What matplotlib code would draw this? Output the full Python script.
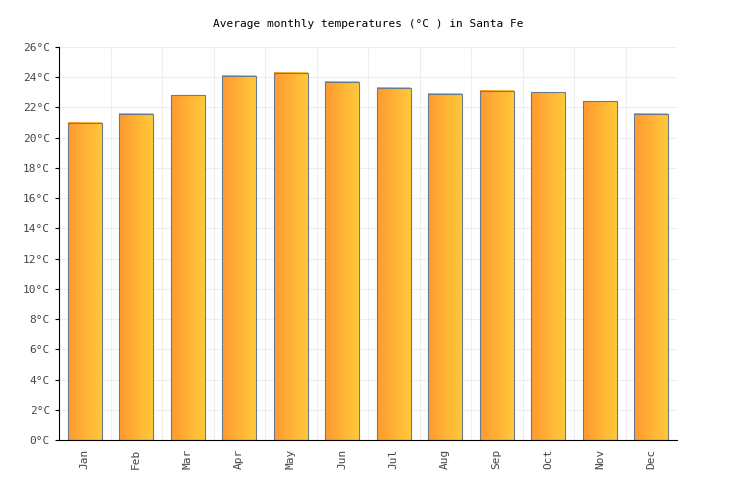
import matplotlib
matplotlib.use("Agg")
import matplotlib.pyplot as plt
import numpy as np
from matplotlib.colors import LinearSegmentedColormap

months = ["Jan", "Feb", "Mar", "Apr", "May", "Jun", "Jul", "Aug", "Sep", "Oct", "Nov", "Dec"]
temps = [21.0, 21.6, 22.8, 24.1, 24.3, 23.7, 23.3, 22.9, 23.1, 23.0, 22.4, 21.6]
yticks = list(range(0, 27, 2))

plt.rcParams["font.family"] = "DejaVu Sans Mono"
fig = plt.figure(figsize=(7.36, 5.0), dpi=100)
ax = fig.add_axes([59 / 736, 60 / 500, 618 / 736, 393 / 500])

cmap = LinearSegmentedColormap.from_list("og", ["#ff9a30", "#ffc93a"])
grad = np.linspace(0, 1, 64).reshape(1, -1)
w = 0.66
bars = ax.bar(range(len(months)), temps, width=w, color="none", edgecolor="#6b7b8c", linewidth=0.8, zorder=3)
for i, v in enumerate(temps):
    ax.imshow(grad, cmap=cmap, aspect="auto", extent=(i - w / 2, i + w / 2, 0, v), zorder=2)

ax.set_xlim(-0.5, len(months) - 0.5)
ax.set_ylim(0, 26)
ax.set_xticks(range(len(months)))
ax.set_xticklabels(months, rotation=90, fontsize=8, color="#444444")
ax.set_yticks(yticks)
ax.set_yticklabels([f"{t}°C" for t in yticks], fontsize=8, color="#444444")
ax.set_xticks(np.arange(-0.5, len(months), 1), minor=True)
ax.grid(True, which="minor", axis="x", color="#eeeeee", linewidth=0.8)
ax.grid(True, which="major", axis="y", color="#eeeeee", linewidth=0.8)
ax.tick_params(axis="x", which="minor", length=0)
ax.tick_params(axis="x", which="major", length=0, pad=6)
ax.tick_params(axis="y", length=3)
for s in ["top", "right"]:
    ax.spines[s].set_visible(False)
ax.spines["left"].set_color("#000000")
ax.spines["bottom"].set_color("#000000")
ax.set_axisbelow(True)
fig.text(0.5, 1 - 24 / 500, "Average monthly temperatures (°C ) in Santa Fe", ha="center", va="center", fontsize=8)
fig.savefig("out.png", dpi=100)
